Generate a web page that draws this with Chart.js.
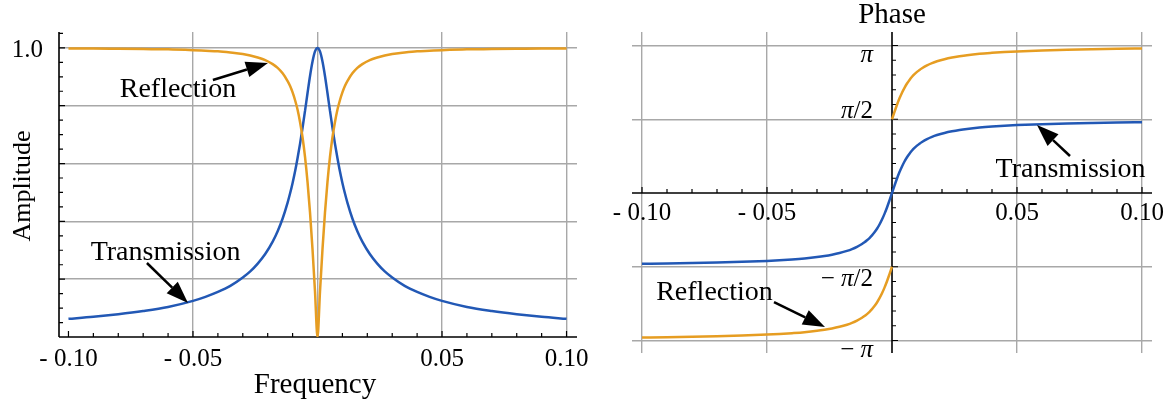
<!DOCTYPE html>
<html>
<head>
<meta charset="utf-8">
<script src="https://cdn.jsdelivr.net/npm/chart.js@4.4.0/dist/chart.umd.min.js"></script>
<style>
  html, body { margin: 0; padding: 0; background: #fff; }
  #wrap { position: relative; width: 1170px; height: 405px; }
  .panel { position: absolute; top: 0; height: 405px; }
  #ampBox { left: 0; width: 590px; }
  #phaseBox { left: 590px; width: 580px; }
</style>
</head>
<body>
<div id="wrap">
  <div class="panel" id="ampBox"><canvas id="ampChart"></canvas></div>
  <div class="panel" id="phaseBox"><canvas id="phaseChart"></canvas></div>
</div>
<script>
// frequency samples (denser near the resonance)
const freq = [-0.1, -0.09, -0.08, -0.07, -0.06, -0.05, -0.045, -0.04, -0.035, -0.03,
  -0.027, -0.024, -0.021, -0.018, -0.016, -0.014, -0.012, -0.011, -0.01, -0.009,
  -0.008, -0.007, -0.006, -0.005, -0.004, -0.003, -0.002, -0.001, 0,
  0.001, 0.002, 0.003, 0.004, 0.005, 0.006, 0.007, 0.008, 0.009, 0.01,
  0.011, 0.012, 0.014, 0.016, 0.018, 0.021, 0.024, 0.027, 0.03, 0.035,
  0.04, 0.045, 0.05, 0.06, 0.07, 0.08, 0.09, 0.1];

const transAmp = [0.063, 0.070, 0.079, 0.090, 0.104, 0.125, 0.139, 0.156, 0.177, 0.206,
  0.227, 0.254, 0.287, 0.330, 0.366, 0.410, 0.465, 0.497, 0.533, 0.573,
  0.619, 0.669, 0.724, 0.783, 0.844, 0.903, 0.953, 0.988, 1.000,
  0.988, 0.953, 0.903, 0.844, 0.783, 0.724, 0.669, 0.619, 0.573, 0.533,
  0.497, 0.465, 0.410, 0.366, 0.330, 0.287, 0.254, 0.227, 0.206, 0.177,
  0.156, 0.139, 0.125, 0.104, 0.090, 0.079, 0.070, 0.063];

const reflAmp = [0.998, 0.998, 0.997, 0.996, 0.995, 0.992, 0.990, 0.988, 0.984, 0.979,
  0.974, 0.967, 0.958, 0.944, 0.931, 0.912, 0.885, 0.868, 0.846, 0.819,
  0.786, 0.743, 0.690, 0.622, 0.536, 0.430, 0.303, 0.157, 0.000,
  0.157, 0.303, 0.430, 0.536, 0.622, 0.690, 0.743, 0.786, 0.819, 0.846,
  0.868, 0.885, 0.912, 0.931, 0.944, 0.958, 0.967, 0.974, 0.979, 0.984,
  0.988, 0.990, 0.992, 0.995, 0.996, 0.997, 0.998, 0.998];

const transPhase = [-1.508, -1.501, -1.492, -1.481, -1.466, -1.446, -1.432, -1.415, -1.393, -1.364,
  -1.342, -1.314, -1.279, -1.234, -1.196, -1.148, -1.087, -1.051, -1.008, -0.960,
  -0.904, -0.838, -0.761, -0.671, -0.566, -0.445, -0.308, -0.157, 0.000,
  0.157, 0.308, 0.445, 0.566, 0.671, 0.761, 0.838, 0.904, 0.960, 1.008,
  1.051, 1.087, 1.148, 1.196, 1.234, 1.279, 1.314, 1.342, 1.364, 1.393,
  1.415, 1.432, 1.446, 1.466, 1.481, 1.492, 1.501, 1.508];

// reflection phase jumps by pi at zero: one branch each side
const reflPhaseNeg = [-3.079, -3.072, -3.063, -3.052, -3.037, -3.016, -3.003, -2.985, -2.964, -2.935,
  -2.912, -2.885, -2.850, -2.805, -2.767, -2.719, -2.658, -2.622, -2.579, -2.531,
  -2.475, -2.409, -2.332, -2.241, -2.137, -2.016, -1.879, -1.728, -1.571];
const reflPhasePos = [1.571, 1.728, 1.879, 2.016, 2.137, 2.241, 2.332, 2.409, 2.475, 2.531,
  2.579, 2.622, 2.658, 2.719, 2.767, 2.805, 2.850, 2.885, 2.912, 2.935,
  2.964, 2.985, 3.003, 3.016, 3.037, 3.052, 3.063, 3.072, 3.079];

const seriesNames = ["Transmission", "Reflection"];

const ampXTickVals = [-0.1, -0.05, 0.05, 0.1];
const ampXTickText = ["- 0.10", "- 0.05", "0.05", "0.10"];
const ampYTickVals = [1.0];
const ampYTickText = ["1.0"];
const ampGridX = [-0.05, 0, 0.05, 0.1];
const ampGridY = [0.2, 0.4, 0.6, 0.8, 1.0];

const phaseXTickVals = [-0.1, -0.05, 0.05, 0.1];
const phaseXTickText = ["- 0.10", "- 0.05", "0.05", "0.10"];
const phaseYTickVals = [Math.PI, Math.PI / 2, -Math.PI / 2, -Math.PI];
const phaseYTickText = ["π", "π/2", "− π/2", "− π"];
const phaseGridX = [-0.1, -0.05, 0.05, 0.1];
const phaseGridY = [-Math.PI, -Math.PI / 2, Math.PI / 2, Math.PI];

const BLUE = "#2258b5";
const ORANGE = "#e69d22";
const SERIF = '"Liberation Serif", "DejaVu Serif", serif';
const TICK_FONT = "25px " + SERIF;
const NOTE_FONT = "28px " + SERIF;

const freqNeg = freq.filter((f) => f <= 0);
const freqPos = freq.filter((f) => f >= 0);
const pts = (xs, ys) => xs.map((x, i) => ({ x: x, y: ys[i] }));

function arrow(ctx, x1, y1, x2, y2) {
  const ang = Math.atan2(y2 - y1, x2 - x1);
  const hl = 22, hw = 8;
  const bx = x2 - hl * Math.cos(ang), by = y2 - hl * Math.sin(ang);
  ctx.lineWidth = 2.5;
  ctx.beginPath();
  ctx.moveTo(x1, y1);
  ctx.lineTo(bx, by);
  ctx.stroke();
  ctx.beginPath();
  ctx.moveTo(x2, y2);
  ctx.lineTo(bx + hw * Math.sin(ang), by - hw * Math.cos(ang));
  ctx.lineTo(bx - hw * Math.sin(ang), by + hw * Math.cos(ang));
  ctx.closePath();
  ctx.fill();
}

// text with an italic pi, right aligned at x
function mixedText(ctx, str, x, y) {
  const parts = str.split(/(π)/).filter((p) => p.length);
  const fonts = parts.map((p) => (p === "π" ? "italic " : "") + TICK_FONT);
  let w = 0;
  parts.forEach((p, i) => { ctx.font = fonts[i]; w += ctx.measureText(p).width; });
  let cx = x - w;
  ctx.textAlign = "left";
  parts.forEach((p, i) => {
    ctx.font = fonts[i];
    ctx.fillText(p, cx, y);
    cx += ctx.measureText(p).width;
  });
}

// axes, inside ticks, tick labels, titles and arrows
function makeDecor(cfg) {
  return {
    id: "decor",
    beforeDatasetsDraw(chart) {
      const { ctx, chartArea: a, scales: { x, y } } = chart;
      const ax = cfg.yAxisAt === undefined ? a.left : x.getPixelForValue(cfg.yAxisAt);
      const ay = cfg.xAxisAt === undefined ? a.bottom : y.getPixelForValue(cfg.xAxisAt);
      ctx.save();
      ctx.strokeStyle = "#000";
      ctx.lineWidth = 1.6;
      ctx.beginPath();
      ctx.moveTo(ax, a.top);
      ctx.lineTo(ax, a.bottom);
      ctx.moveTo(a.left, ay);
      ctx.lineTo(a.right, ay);
      ctx.stroke();
      ctx.lineWidth = 1.2;
      ctx.beginPath();
      cfg.xTicks.forEach((t) => {
        const px = x.getPixelForValue(t.v);
        ctx.moveTo(px, ay);
        ctx.lineTo(px, ay - (t.major ? 6 : 4));
      });
      cfg.yTicks.forEach((t) => {
        const py = y.getPixelForValue(t.v);
        ctx.moveTo(ax, py);
        ctx.lineTo(ax + (t.major ? 6 : 4), py);
      });
      ctx.stroke();
      ctx.restore();
    },
    afterDraw(chart) {
      const { ctx, chartArea: a, scales: { x, y } } = chart;
      const ax = cfg.yAxisAt === undefined ? a.left : x.getPixelForValue(cfg.yAxisAt);
      const ay = cfg.xAxisAt === undefined ? a.bottom : y.getPixelForValue(cfg.xAxisAt);
      ctx.save();
      ctx.fillStyle = "#000";
      ctx.strokeStyle = "#000";
      ctx.font = TICK_FONT;
      ctx.textAlign = "center";
      ctx.textBaseline = "middle";
      cfg.xLabels.vals.forEach((v, i) => {
        ctx.fillText(cfg.xLabels.text[i], x.getPixelForValue(v), ay + cfg.xLabels.dy);
      });
      cfg.yLabels.vals.forEach((v, i) => {
        mixedText(ctx, cfg.yLabels.text[i], ax - cfg.yLabels.dx, y.getPixelForValue(v) + cfg.yLabels.dy[i]);
      });
      ctx.textAlign = "center";
      ctx.textBaseline = "alphabetic";
      cfg.titles.forEach((t) => {
        ctx.save();
        ctx.font = (t.size || 28) + "px " + SERIF;
        ctx.translate(t.px, t.py);
        if (t.rot) ctx.rotate(t.rot);
        ctx.fillText(t.text, 0, 0);
        ctx.restore();
      });
      ctx.font = NOTE_FONT;
      cfg.notes.forEach((n) => {
        ctx.fillText(n.text, x.getPixelForValue(n.tx), y.getPixelForValue(n.ty));
        arrow(ctx, x.getPixelForValue(n.from[0]), y.getPixelForValue(n.from[1]),
          x.getPixelForValue(n.to[0]), y.getPixelForValue(n.to[1]));
      });
      ctx.restore();
    },
  };
}

function gridScale(min, max, vals) {
  return {
    type: "linear",
    min: min,
    max: max,
    border: { display: false },
    ticks: { display: false },
    grid: { color: "#a8a8a8", lineWidth: 1.4, drawTicks: false },
    afterBuildTicks: (s) => { s.ticks = vals.map((v) => ({ value: v })); },
  };
}

function lineSet(label, data, color) {
  return {
    label: label,
    data: data,
    borderColor: color,
    borderWidth: 2.5,
    pointRadius: 0,
    fill: false,
    cubicInterpolationMode: "monotone",
  };
}

const ampXMinor = [];
for (let i = -10; i <= 10; i++) ampXMinor.push({ v: i / 100, major: i % 5 === 0 });
const ampYMinor = [];
for (let i = 1; i <= 21; i++) ampYMinor.push({ v: i * 0.05, major: i % 4 === 0 });
const phaseYMinor = [];
for (let i = -10; i <= 10; i++) if (i !== 0) phaseYMinor.push({ v: i * Math.PI / 10, major: i % 5 === 0 });

const ampChart = new Chart(document.getElementById("ampChart"), {
  type: "line",
  data: {
    datasets: [
      lineSet(seriesNames[1], pts(freq, reflAmp), ORANGE),
      lineSet(seriesNames[0], pts(freq, transAmp), BLUE),
    ],
  },
  options: {
    responsive: true,
    maintainAspectRatio: false,
    animation: false,
    layout: { padding: { left: 59, right: 13, top: 32, bottom: 68 } },
    plugins: { legend: { display: false }, tooltip: { enabled: false } },
    scales: {
      x: gridScale(-0.1038, 0.1042, ampGridX),
      y: gridScale(0, 1.055, ampGridY),
    },
  },
  plugins: [makeDecor({
    xTicks: ampXMinor,
    yTicks: ampYMinor,
    xLabels: { vals: ampXTickVals, text: ampXTickText, dy: 22 },
    yLabels: { vals: ampYTickVals, text: ampYTickText, dx: 16, dy: [3] },
    titles: [
      { text: "Frequency", px: 315, py: 393, size: 29 },
      { text: "Amplitude", px: 30, py: 186, rot: -Math.PI / 2, size: 26 },
    ],
    notes: [
      { text: seriesNames[1], tx: -0.056, ty: 0.830, from: [-0.042, 0.889], to: [-0.0199, 0.948] },
      { text: seriesNames[0], tx: -0.061, ty: 0.266, from: [-0.0685, 0.256], to: [-0.052, 0.118] },
    ],
  })],
});

const phaseChart = new Chart(document.getElementById("phaseChart"), {
  type: "line",
  data: {
    datasets: [
      lineSet(seriesNames[1], pts(freqNeg, reflPhaseNeg), ORANGE),
      lineSet(seriesNames[1], pts(freqPos, reflPhasePos), ORANGE),
      lineSet(seriesNames[0], pts(freq, transPhase), BLUE),
    ],
  },
  options: {
    responsive: true,
    maintainAspectRatio: false,
    animation: false,
    layout: { padding: { left: 42, right: 18, top: 32, bottom: 52 } },
    plugins: { legend: { display: false }, tooltip: { enabled: false } },
    scales: {
      x: gridScale(-0.104, 0.104, phaseGridX),
      y: gridScale(-3.408, 3.429, phaseGridY),
    },
  },
  plugins: [makeDecor({
    xAxisAt: 0,
    yAxisAt: 0,
    xTicks: ampXMinor,
    yTicks: phaseYMinor,
    xLabels: { vals: phaseXTickVals, text: phaseXTickText, dy: 20 },
    yLabels: { vals: phaseYTickVals, text: phaseYTickText, dx: 19, dy: [10, -8, 13, 10] },
    titles: [{ text: "Phase", px: 302, py: 23, size: 29 }],
    notes: [
      { text: seriesNames[0], tx: 0.0714, ty: 0.341, from: [0.0712, 0.788], to: [0.058, 1.448] },
      { text: seriesNames[1], tx: -0.071, ty: -2.279, from: [-0.0472, -2.322], to: [-0.0268, -2.854] },
    ],
  })],
});
</script>
</body>
</html>
